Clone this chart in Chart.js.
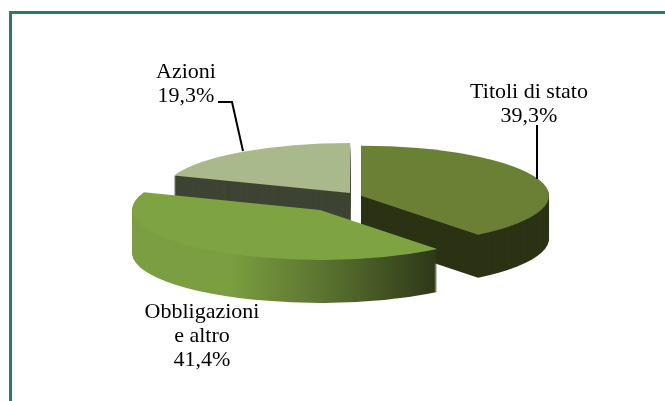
<!DOCTYPE html>
<html>
<head>
<meta charset="utf-8">
<style>html,body{margin:0;padding:0;background:#fff}canvas{display:block}</style>
<script src="https://cdn.jsdelivr.net/npm/chart.js@4/dist/chart.umd.min.js"></script>
</head>
<body>
<canvas id="c" width="665" height="401"></canvas>
<script>
const categories = ['Titoli di stato', 'Obbligazioni e altro', 'Azioni'];
const shareValues = [39.3, 41.4, 19.3];
const topColors = ['#6a8035', '#7da342', '#a9b98c'];
const labelLines = [['Titoli di stato'], ['Obbligazioni', 'e altro'], ['Azioni']];

const view = {cx: 358, cy: 196, rx: 188, ry: 50, depth: 43};
const explode = [3.2, 64.6, 13.9];
const drawOrder = [2, 0, 1];
const labelPos = [{x: 529, y: 98}, {x: 202, y: 318}, {x: 186, y: 78}];
const lineGap = 24;
const leaders = [
  [[537, 125], [537, 179]],
  [[218, 102], [232, 102], [243, 151]]
];

const pct = v => v.toFixed(1).replace('.', ',') + '%';

function wallFill(ctx, arc, i) {
  if (i === 0) return '#2b3314';
  if (i === 2) return '#3e4433';
  const R = arc.outerRadius;
  const g = ctx.createLinearGradient(arc.x - R, 0, arc.x + R, 0);
  g.addColorStop(0, '#7a9f42');
  g.addColorStop(0.26, '#7a9e40');
  g.addColorStop(0.5, '#5c7530');
  g.addColorStop(0.8, '#2f3a19');
  g.addColorStop(1, '#2f3a19');
  return g;
}

const pie3d = {
  id: 'pie3d',
  beforeDraw(chart) {
    const ctx = chart.ctx;
    ctx.save();
    ctx.fillStyle = '#2a7b66';
    ctx.fillRect(9, 11, 656, 3);
    ctx.fillRect(9, 11, 3, 390);
    ctx.restore();
  },
  beforeDatasetsDraw(chart) {
    const ctx = chart.ctx;
    const arcs = chart.getDatasetMeta(0).data;
    const place = (arc, i, down) => {
      const mid = (arc.startAngle + arc.endAngle) / 2;
      const R = arc.outerRadius;
      const sx = view.rx / R, sy = view.ry / R;
      ctx.translate(view.cx + Math.cos(mid) * explode[i],
                    view.cy + Math.sin(mid) * explode[i] * (view.ry / view.rx) + down);
      ctx.scale(sx, sy);
      ctx.translate(-arc.x, -arc.y);
    };
    drawOrder.forEach(i => {
      const arc = arcs[i];
      const saved = arc.options;
      arc.options = Object.assign({}, saved, {backgroundColor: wallFill(ctx, arc, i)});
      for (let d = view.depth; d >= 1; d--) {
        ctx.save();
        place(arc, i, d);
        arc.draw(ctx);
        ctx.restore();
      }
      arc.options = saved;
      ctx.save();
      place(arc, i, 0);
      arc.draw(ctx);
      ctx.restore();
    });
    return false;
  },
  afterDraw(chart) {
    const ctx = chart.ctx;
    ctx.save();
    ctx.strokeStyle = '#000';
    ctx.lineWidth = 2;
    leaders.forEach(pts => {
      ctx.beginPath();
      pts.forEach((p, k) => k ? ctx.lineTo(p[0], p[1]) : ctx.moveTo(p[0], p[1]));
      ctx.stroke();
    });
    ctx.fillStyle = '#000';
    ctx.font = '22px "Liberation Serif"';
    ctx.textAlign = 'center';
    ctx.textBaseline = 'alphabetic';
    labelLines.forEach((lines, i) => {
      const all = lines.concat([pct(shareValues[i])]);
      all.forEach((t, k) => ctx.fillText(t, labelPos[i].x, labelPos[i].y + k * lineGap));
    });
    ctx.restore();
  }
};

new Chart(document.getElementById('c'), {
  type: 'pie',
  data: {
    labels: categories,
    datasets: [{data: shareValues, backgroundColor: topColors, borderWidth: 0}]
  },
  options: {
    responsive: false,
    animation: false,
    layout: {padding: 0},
    plugins: {legend: {display: false}, tooltip: {enabled: false}}
  },
  plugins: [pie3d]
});
</script>
</body>
</html>
